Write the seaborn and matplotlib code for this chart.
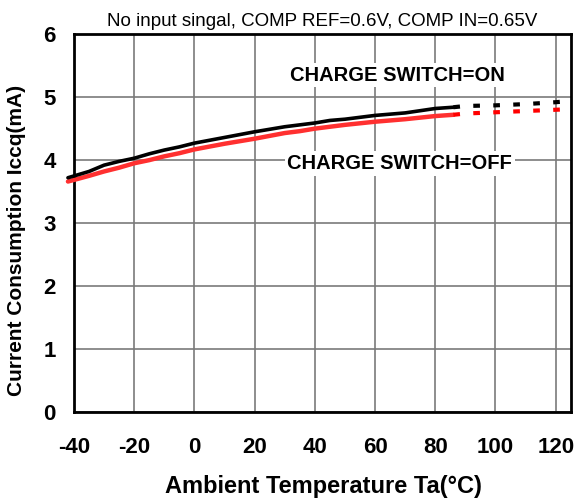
import matplotlib
matplotlib.use("Agg")
import matplotlib.pyplot as plt
import seaborn as sns
import pandas as pd

# measured curves (solid part)
temp_meas = [-42, -35, -30, -25, -20, -15, -10, -5, 0, 10, 20, 30, 35, 40, 45, 50, 60, 70, 80, 86]
icc_on = [3.72, 3.82, 3.92, 3.98, 4.03, 4.10, 4.16, 4.21, 4.27, 4.36, 4.45, 4.53, 4.56, 4.59, 4.63, 4.65, 4.71, 4.75, 4.82, 4.84]
icc_off = [3.66, 3.75, 3.82, 3.88, 3.95, 4.00, 4.06, 4.11, 4.17, 4.26, 4.34, 4.43, 4.46, 4.50, 4.53, 4.56, 4.61, 4.65, 4.70, 4.72]

# extrapolated part (dotted)
temp_ext = [86, 90, 100, 110, 120, 125]
icc_on_ext = [4.84, 4.86, 4.87, 4.89, 4.92, 4.94]
icc_off_ext = [4.72, 4.74, 4.76, 4.78, 4.80, 4.81]

x_ticks = [-40, -20, 0, 20, 40, 60, 80, 100, 120]
y_ticks = [0, 1, 2, 3, 4, 5, 6]

sns.set_style("white")
plt.rcParams['font.family'] = ['Liberation Sans', 'DejaVu Sans']
plt.rcParams['text.color'] = 'black'
plt.rcParams['axes.labelcolor'] = 'black'
plt.rcParams['xtick.color'] = 'black'
plt.rcParams['ytick.color'] = 'black'

fig = plt.figure(figsize=(5.77, 5.03), dpi=100)
ax = fig.add_axes([0.1282, 0.181, 0.861, 0.751])

dfOn = pd.DataFrame({"t": temp_meas, "i": icc_on})
dfOff = pd.DataFrame({"t": temp_meas, "i": icc_off})
dfOnExt = pd.DataFrame({"t": temp_ext, "i": icc_on_ext})
dfOffExt = pd.DataFrame({"t": temp_ext, "i": icc_off_ext})

sns.lineplot(data=dfOff, x="t", y="i", ax=ax, color="#ff3030", linewidth=3.2, clip_on=False, zorder=4)
sns.lineplot(data=dfOn, x="t", y="i", ax=ax, color="black", linewidth=2.6, clip_on=False, zorder=5)
sns.lineplot(data=dfOffExt, x="t", y="i", ax=ax, color="red", linewidth=3.0, clip_on=False, zorder=4,
             linestyle=(0, (1.6, 3.2)), dash_capstyle="butt")
sns.lineplot(data=dfOnExt, x="t", y="i", ax=ax, color="black", linewidth=3.0, clip_on=False, zorder=5,
             linestyle=(0, (1.6, 3.2)), dash_capstyle="butt")

ax.set_xlim(-40, 125)
ax.set_ylim(0, 6)
ax.set_xticks(x_ticks)
ax.set_yticks(y_ticks)
ax.set_xticklabels([str(v) for v in x_ticks], fontsize=16, fontweight="bold")
ax.set_yticklabels([str(v) for v in y_ticks], fontsize=16, fontweight="bold")
ax.tick_params(axis="y", length=0, pad=13)
ax.tick_params(axis="x", length=0, pad=18)
ax.grid(True, color="#7a7a7a", linewidth=1.2)
ax.set_axisbelow(True)
for s in ax.spines.values():
    s.set_color("black")
    s.set_linewidth(2)

ax.set_xlabel("Ambient Temperature Ta(°C)", fontsize=17, fontweight="bold")
ax.set_ylabel("Current Consumption Iccq(mA)", fontsize=15, fontweight="bold")
ax.xaxis.label.set_va("center")
ax.yaxis.label.set_va("center")
ax.xaxis.set_label_coords(0.503, -0.198)
ax.yaxis.set_label_coords(-0.115, 0.455)
ax.set_title("No input singal, COMP REF=0.6V, COMP IN=0.65V", fontsize=13.5, pad=6)

box = dict(facecolor="white", edgecolor="none", pad=2)
ax.text(67.4, 5.35, "CHARGE SWITCH=ON", fontsize=14.5, fontweight="bold", ha="center", va="center", bbox=box, zorder=6)
ax.text(68.2, 3.95, "CHARGE SWITCH=OFF", fontsize=14.5, fontweight="bold", ha="center", va="center", bbox=box, zorder=6)

fig.savefig("out.png", dpi=100)
